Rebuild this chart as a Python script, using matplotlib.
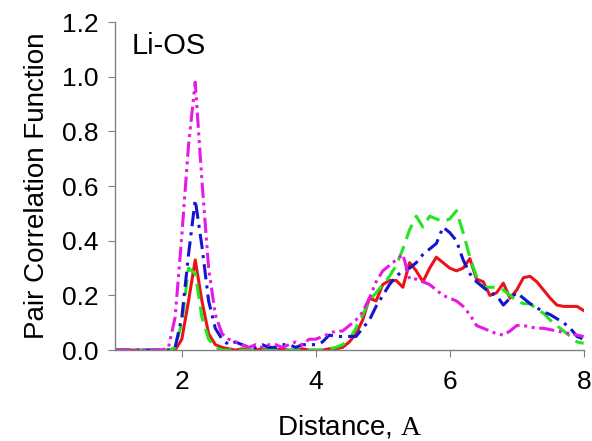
import matplotlib
matplotlib.use("Agg")
import matplotlib.pyplot as plt
from matplotlib.ticker import FormatStrFormatter

plt.rcParams['font.family'] = ['Liberation Sans', 'DejaVu Sans']
plt.rcParams['mathtext.fontset'] = 'custom'
plt.rcParams['mathtext.rm'] = 'Liberation Serif'

# distance grid, Angstrom
distance = [1.0, 1.1, 1.2, 1.3, 1.4, 1.5, 1.6, 1.7, 1.8, 1.9,
            2.0, 2.1, 2.2, 2.3, 2.4, 2.5, 2.6, 2.7, 2.8, 2.9,
            3.0, 3.1, 3.2, 3.3, 3.4, 3.5, 3.6, 3.7, 3.8, 3.9,
            4.0, 4.1, 4.2, 4.3, 4.4, 4.5, 4.6, 4.7, 4.8, 4.9,
            5.0, 5.1, 5.2, 5.3, 5.4, 5.5, 5.6, 5.7, 5.8, 5.9,
            6.0, 6.1, 6.2, 6.3, 6.4, 6.5, 6.6, 6.7, 6.8, 6.9,
            7.0, 7.1, 7.2, 7.3, 7.4, 7.5, 7.6, 7.7, 7.8, 7.9,
            8.0]

red = [0, 0, 0, 0, 0, 0, 0, 0, 0, 0,
       0.04, 0.18, 0.33, 0.18, 0.06, 0.02, 0.01, 0.005, 0.0, 0.005,
       0.0, 0.0, 0.005, 0.0, 0.0, 0.005, 0.0, 0.0, 0.005, 0.0,
       0.0, 0.0, 0.005, 0.005, 0.01, 0.03, 0.06, 0.11, 0.19, 0.18,
       0.24, 0.255, 0.255, 0.23, 0.32, 0.29, 0.25, 0.30, 0.34, 0.32,
       0.30, 0.29, 0.30, 0.335, 0.26, 0.25, 0.20, 0.21, 0.245, 0.19,
       0.22, 0.265, 0.27, 0.25, 0.22, 0.19, 0.165, 0.16, 0.16, 0.16,
       0.145]

green = [0, 0, 0, 0, 0, 0, 0, 0, 0, 0.01,
         0.10, 0.30, 0.28, 0.12, 0.04, 0.01, 0.0, 0.0, 0.0, 0.0,
         0.0, 0.0, 0.0, 0.0, 0.0, 0.0, 0.0, 0.0, 0.0, 0.0,
         0.0, 0.0, 0.005, 0.01, 0.02, 0.04, 0.08, 0.13, 0.18, 0.21,
         0.24, 0.27, 0.31, 0.37, 0.44, 0.49, 0.45, 0.49, 0.48, 0.47,
         0.48, 0.51, 0.43, 0.34, 0.27, 0.23, 0.23, 0.23, 0.22, 0.20,
         0.18, 0.17, 0.17, 0.15, 0.135, 0.11, 0.09, 0.07, 0.05, 0.03,
         0.025]

blue = [0, 0, 0, 0, 0, 0, 0, 0, 0, 0.01,
        0.12, 0.35, 0.55, 0.38, 0.18, 0.08, 0.04, 0.02, 0.03, 0.02,
        0.01, 0.01, 0.02, 0.01, 0.01, 0.02, 0.02, 0.01, 0.02, 0.02,
        0.02, 0.03, 0.055, 0.05, 0.05, 0.05, 0.05, 0.08, 0.11, 0.16,
        0.20, 0.24, 0.27, 0.29, 0.30, 0.32, 0.35, 0.37, 0.39, 0.45,
        0.43, 0.40, 0.33, 0.28, 0.25, 0.23, 0.21, 0.20, 0.165, 0.19,
        0.21, 0.19, 0.17, 0.155, 0.14, 0.13, 0.115, 0.10, 0.08, 0.05,
        0.04]

magenta = [0, 0, 0, 0, 0, 0, 0, 0, 0.01, 0.12,
           0.42, 0.75, 0.98, 0.62, 0.30, 0.13, 0.06, 0.04, 0.03, 0.02,
           0.01, 0.02, 0.01, 0.02, 0.02, 0.01, 0.02, 0.03, 0.02, 0.04,
           0.04, 0.05, 0.06, 0.07, 0.07, 0.09, 0.11, 0.14, 0.19, 0.25,
           0.29, 0.31, 0.33, 0.35, 0.26, 0.26, 0.25, 0.24, 0.22, 0.20,
           0.19, 0.18, 0.16, 0.13, 0.09, 0.08, 0.07, 0.06, 0.055, 0.07,
           0.09, 0.09, 0.085, 0.08, 0.08, 0.075, 0.07, 0.065, 0.06, 0.055,
           0.05]

fig = plt.figure(figsize=(5.92, 4.41), dpi=100)
ax = fig.add_axes([0.194, 0.206, 0.792, 0.744])

ax.plot(distance, red, color='#e8141a', lw=2.2, ls='-')
ax.plot(distance, green, color='#22e622', lw=2.2, ls=(0, (5, 2.5)))
ax.plot(distance, blue, color='#1414d2', lw=2.2, ls=(0, (5, 2, 1, 2)))
ax.plot(distance, magenta, color='#e619e6', lw=2.2, ls=(0, (5, 1.5, 1, 1.5, 1, 1.5)))

ax.set_xlim(1, 8)
ax.set_ylim(0, 1.2)
ax.set_xticks([2, 4, 6, 8])
ax.set_yticks([0.0, 0.2, 0.4, 0.6, 0.8, 1.0, 1.2])
ax.yaxis.set_major_formatter(FormatStrFormatter('%.1f'))

for s in ['top', 'right']:
    ax.spines[s].set_visible(False)
for s in ['left', 'bottom']:
    ax.spines[s].set_color('#808080')
    ax.spines[s].set_linewidth(1)
ax.tick_params(direction='out', length=5, color='#808080', labelsize=19)
ax.tick_params(axis='x', pad=9)
ax.tick_params(axis='y', pad=7)

ax.set_xlabel(r'Distance, $\mathrm{A}$', fontsize=20, labelpad=14)
ax.set_ylabel('Pair Correlation Function', fontsize=20, labelpad=8)
ax.text(0.035, 0.97, 'Li-OS', transform=ax.transAxes, fontsize=21,
        ha='left', va='top')

fig.savefig('out.png', dpi=100)
